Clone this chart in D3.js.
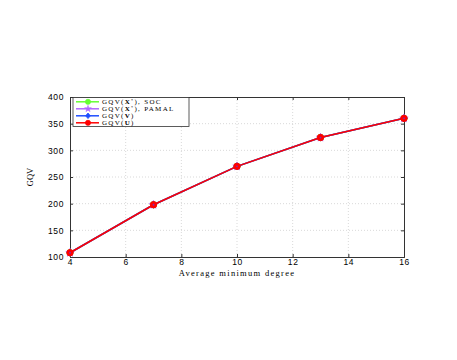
<!DOCTYPE html>
<html>
<head>
<meta charset="utf-8">
<script src="https://cdn.jsdelivr.net/npm/d3@7"></script>
<style>
  body { margin: 0; background: #fff; }
  svg text { fill: #000; }
</style>
</head>
<body>
<div id="wrapper"></div>
<script>
// Data
const degrees = [4, 7, 10, 13, 16];
const gqvSoc = [108, 198, 270, 324, 360];
const gqvPamal = [108, 198, 270, 324, 360];
const gqvV = [108, 198, 270, 324, 360];
const gqvU = [108, 198, 270, 324, 360];
const xTicks = [4, 6, 8, 10, 12, 14, 16];
const yTicks = [100, 150, 200, 250, 300, 350, 400];

const series = [
    { name: "SOC", values: gqvSoc, color: "#66ff33", marker: "circle", label: [["GQV(", ""], ["X", "b"], ["*", "sup"], ["), SOC", "down"]] },
    { name: "PAMAL", values: gqvPamal, color: "#b266ff", marker: "star", label: [["GQV(", ""], ["X", "b"], ["*", "sup"], ["), PAMAL", "down"]] },
    { name: "V", values: gqvV, color: "#1f4fff", marker: "diamond", label: [["GQV(", ""], ["V", "b"], [")", ""]] },
    { name: "U", values: gqvU, color: "#ff0000", marker: "circle", label: [["GQV(", ""], ["U", "b"], [")", ""]] },
];

// Dimensions
const dimensions = {
    width: 457,
    height: 360,
    margin: { top: 97, right: 53, bottom: 103, left: 70 },
};
dimensions.boundedWidth = dimensions.width - dimensions.margin.left - dimensions.margin.right;
dimensions.boundedHeight = dimensions.height - dimensions.margin.top - dimensions.margin.bottom;

const svg = d3.select("#wrapper")
    .append("svg")
    .attr("width", dimensions.width)
    .attr("height", dimensions.height);

const bounds = svg.append("g")
    .attr("transform", `translate(${dimensions.margin.left},${dimensions.margin.top})`);

// Scales
const xScale = d3.scaleLinear().domain([4, 16]).range([0, dimensions.boundedWidth]);
const yScale = d3.scaleLinear().domain([100, 400]).range([dimensions.boundedHeight, 0]);

// Grid
bounds.append("g")
    .selectAll("line")
    .data(xTicks.slice(1, -1))
    .join("line")
    .attr("x1", d => xScale(d)).attr("x2", d => xScale(d))
    .attr("y1", 0).attr("y2", dimensions.boundedHeight)
    .attr("stroke", "#c8c8c8").attr("stroke-width", 0.7).attr("stroke-dasharray", "1,2");
bounds.append("g")
    .selectAll("line")
    .data(yTicks.slice(1, -1))
    .join("line")
    .attr("y1", d => yScale(d)).attr("y2", d => yScale(d))
    .attr("x1", 0).attr("x2", dimensions.boundedWidth)
    .attr("stroke", "#c8c8c8").attr("stroke-width", 0.7).attr("stroke-dasharray", "1,2");

// Axes (ticks inward)
const tickFont = "Liberation Sans, Arial, sans-serif";
const xAxis = bounds.append("g")
    .attr("transform", `translate(0,${dimensions.boundedHeight})`)
    .call(d3.axisBottom(xScale).tickValues(xTicks).tickSize(-3).tickPadding(2));
const yAxis = bounds.append("g")
    .call(d3.axisLeft(yScale).tickValues(yTicks).tickSize(-3).tickPadding(6));
const xAxisTop = bounds.append("g")
    .call(d3.axisTop(xScale).tickValues(xTicks).tickSize(-3).tickFormat(""));
const yAxisRight = bounds.append("g")
    .attr("transform", `translate(${dimensions.boundedWidth},0)`)
    .call(d3.axisRight(yScale).tickValues(yTicks).tickSize(-3).tickFormat(""));
[xAxis, yAxis, xAxisTop, yAxisRight].forEach(a => {
    a.select(".domain").attr("stroke", "#333");
    a.selectAll(".tick line").attr("stroke", "#333");
    a.selectAll("text").attr("font-family", tickFont).attr("font-size", 8.5).attr("letter-spacing", 0.6).attr("fill", "#000");
});

// Axis labels
svg.append("text")
    .attr("x", dimensions.margin.left + dimensions.boundedWidth / 2)
    .attr("y", 276)
    .attr("text-anchor", "middle")
    .attr("font-family", "Liberation Serif, DejaVu Serif, serif")
    .attr("font-size", 8.5)
    .attr("letter-spacing", 1.3)
    .text("Average minimum degree");
svg.append("text")
    .attr("transform", `translate(33,${dimensions.margin.top + dimensions.boundedHeight / 2}) rotate(-90)`)
    .attr("text-anchor", "middle")
    .attr("font-family", "Liberation Serif, DejaVu Serif, serif")
    .attr("font-size", 8.5)
    .text("GQV");

// Markers
function drawMarker(g, type, color) {
    if (type === "circle") {
        g.append("circle").attr("r", 3.2).attr("fill", color).attr("stroke", color).attr("stroke-width", 1);
    } else if (type === "diamond") {
        g.append("path").attr("d", "M0,-3.5L3,0L0,3.5L-3,0Z").attr("fill", color).attr("stroke", color);
    } else {
        g.append("path").attr("d", d3.symbol(d3.symbolStar, 22)()).attr("fill", color).attr("stroke", color).attr("stroke-width", 0.6);
    }
}

const line = d3.line().x((d, i) => xScale(degrees[i])).y(d => yScale(d));
series.forEach(s => {
    const g = bounds.append("g");
    g.append("path")
        .attr("d", line(s.values))
        .attr("fill", "none")
        .attr("stroke", s.color)
        .attr("stroke-width", 1.5);
    s.values.forEach((v, i) => {
        const m = g.append("g").attr("transform", `translate(${xScale(degrees[i])},${yScale(v)})`);
        drawMarker(m, s.marker, s.color);
    });
});
// small blue hints peeking out under the red markers
bounds.selectAll(".hint")
    .data(degrees)
    .join("circle")
    .attr("cx", d => xScale(d)).attr("cy", (d, i) => yScale(gqvU[i]))
    .attr("r", 0.9).attr("fill", "#4b3cff").attr("opacity", 0.7);

// Legend
const legend = bounds.append("g").attr("transform", "translate(3,0.5)");
legend.append("rect")
    .attr("width", 116).attr("height", 29)
    .attr("fill", "#fff").attr("stroke", "#333").attr("stroke-width", 0.8);
series.forEach((s, i) => {
    const row = legend.append("g").attr("transform", `translate(0,${4.3 + i * 7})`);
    row.append("line").attr("x1", 3).attr("x2", 26).attr("stroke", s.color).attr("stroke-width", 1.5);
    drawMarker(row.append("g").attr("transform", "translate(15,0) scale(0.8)"), s.marker, s.color);
    const t = row.append("text")
        .attr("x", 29).attr("y", 2.5)
        .attr("font-family", "Liberation Serif, DejaVu Serif, serif")
        .attr("font-size", 7)
        .attr("letter-spacing", 1.3);
    s.label.forEach(([txt, style]) => {
        const sp = t.append("tspan").text(txt);
        if (style === "b") sp.attr("font-weight", "bold");
        if (style === "sup") sp.attr("font-size", 4.2).attr("dy", -2.2);
        if (style === "down") sp.attr("dy", 2.2);
    });
});
</script>
</body>
</html>
